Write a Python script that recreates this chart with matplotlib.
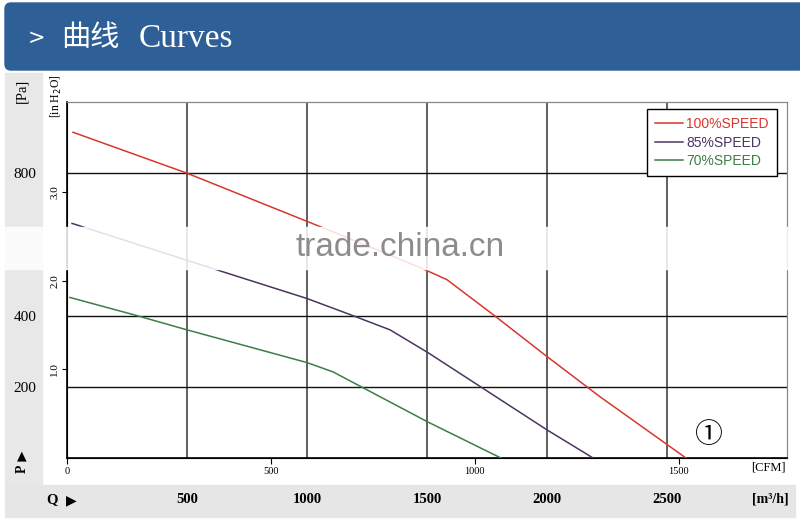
import matplotlib
matplotlib.use("Agg")
import matplotlib.pyplot as plt
from matplotlib.patches import Rectangle, FancyBboxPatch

# fan curves: airflow in m3/h, pressure in Pa
q_100 = [25, 500, 1062, 1471, 1583, 1775, 2000, 2221, 2579]
p_100 = [915, 800, 648, 535, 501, 403, 285, 172, 0]
q_85 = [21, 608, 1000, 1179, 1346, 1504, 2000, 2192]
p_85 = [659, 532, 448, 403, 360, 296, 79, 0]
q_70 = [12, 275, 500, 1000, 1108, 1504, 1808]
p_70 = [451, 403, 360, 268, 242, 101, 0]

labels = ["100%SPEED", "85%SPEED", "70%SPEED"]
colors = ["#d8372d", "#4b3561", "#3d7d45"]

q_ticks = [500, 1000, 1500, 2000, 2500]
cfm_ticks = [0, 500, 1000, 1500]
pa_ticks = [200, 400, 800]
inh2o_ticks = [1, 2, 3]

W, H = 800, 521
def fx(px):
    return px / W
def fy(py):
    return 1 - py / H

SERIF = "Liberation Serif"

fig = plt.figure(figsize=(8, 5.21), dpi=100)
fig.patch.set_facecolor("white")

# backgrounds (header drawn in pixel coords so the corner stays round)
fig.add_artist(FancyBboxPatch((5, H - 70), 800, 67, boxstyle="round,pad=0,rounding_size=6",
                              transform=None, color="#2e5f97", zorder=0))
fig.add_artist(Rectangle((fx(5), fy(485)), fx(37), (485 - 73) / H,
                         transform=fig.transFigure, color="#e8e8e8", zorder=0))
fig.add_artist(Rectangle((fx(5), fy(517)), fx(790), (517 - 485) / H,
                         transform=fig.transFigure, color="#e6e6e6", zorder=0))

# header
fig.text(fx(37), fy(38), ">", color="white", fontsize=15, ha="center", va="center",
         family="DejaVu Sans")
fig.text(fx(61), fy(38), "曲线", color="white", fontsize=21, ha="left", va="center",
         family=["Noto Sans CJK SC", "DejaVu Sans"], fontweight="medium")
fig.text(fx(139), fy(39), "Curves", color="white", fontsize=24, ha="left", va="center",
         family=SERIF)

ax = fig.add_axes([fx(67), fy(458), (787 - 67) / W, (458 - 102) / H])
ax.set_facecolor("none")

for q, p, lab, col in zip([q_100, q_85, q_70], [p_100, p_85, p_70], labels, colors):
    ax.plot(q, p, color=col, lw=1.1, label=lab, zorder=3)

ax.set_xlim(0, 3000)
ax.set_ylim(0, 1000)

ax.set_xticks(q_ticks)
ax.set_xticklabels([str(v) for v in q_ticks], family=SERIF, fontsize=10.5, fontweight="bold")
ax.tick_params(axis="x", length=0, pad=25)
ax.set_yticks(pa_ticks)
ax.set_yticklabels([str(v) for v in pa_ticks], family=SERIF, fontsize=11)
ax.tick_params(axis="y", length=0, pad=22)

ax.grid(axis="x", color="#444444", lw=1.2)
ax.grid(axis="y", color="#111111", lw=1.0)

for s in ["left", "bottom"]:
    ax.spines[s].set_color("black")
    ax.spines[s].set_linewidth(1.2)
for s in ["top", "right"]:
    ax.spines[s].set_color("#888888")
    ax.spines[s].set_linewidth(0.9)

# CFM scale right under the plot
sec_x = ax.secondary_xaxis("bottom", functions=(lambda q: q / 1.699, lambda c: c * 1.699))
sec_x.set_xticks(cfm_ticks)
sec_x.set_xticklabels([str(v) for v in cfm_ticks], family=SERIF, fontsize=7.5)
sec_x.tick_params(axis="x", length=4.5, width=0.8, pad=2)

# inch water scale
sec_y = ax.secondary_yaxis("left", functions=(lambda p: p / 249.09, lambda i: i * 249.09))
sec_y.set_yticks(inh2o_ticks)
sec_y.set_yticklabels(["%.1f" % v for v in inh2o_ticks], family=SERIF, fontsize=8,
                      rotation=90, va="center")
sec_y.tick_params(axis="y", length=3.5, width=0.8, pad=2)

leg = ax.legend(loc="upper right", bbox_to_anchor=(fx(777), fy(109)),
                bbox_transform=fig.transFigure, fancybox=False, edgecolor="black",
                framealpha=1, prop={"family": "Liberation Sans", "size": 10},
                handlelength=2.0, handletextpad=0.25, labelspacing=0.3,
                borderpad=0.6, borderaxespad=0, labelcolor="linecolor")
leg.get_frame().set_linewidth(1.0)

# axis captions
fig.text(fx(22), fy(91), "[Pa]", rotation=90, family=SERIF, fontsize=10.5,
         ha="center", va="center")
fig.text(fx(56), fy(96), "[in H$_2$O]", rotation=90, family=SERIF, fontsize=8.5,
         ha="center", va="center")
fig.text(fx(22), fy(469), "P", rotation=90, family=SERIF, fontsize=10, fontweight="bold",
         ha="center", va="center")
fig.text(fx(22), fy(456), "▲", family="DejaVu Sans", fontsize=9, ha="center", va="center")
fig.text(fx(52), fy(500), "Q", family=SERIF, fontsize=10.5, fontweight="bold",
         ha="center", va="center")
fig.text(fx(71), fy(500), "▶", family="DejaVu Sans", fontsize=10, ha="center", va="center")
fig.text(fx(768), fy(468), "[CFM]", family=SERIF, fontsize=9, ha="center", va="center")
fig.text(fx(770), fy(499), "[m³/h]", family=SERIF, fontsize=10, fontweight="bold",
         ha="center", va="center")
fig.text(fx(708), fy(435), "①", family=["Noto Sans CJK SC", "DejaVu Sans"], fontsize=20,
         ha="center", va="center")

# washed-out watermark band
fig.add_artist(Rectangle((0, fy(269)), 1, (269 - 227) / H, transform=fig.transFigure,
                         color="white", alpha=0.85, zorder=5))
fig.text(fx(400), fy(248), "trade.china.cn", family="Liberation Sans", fontsize=24,
         color="#8c8c8c", ha="center", va="center", zorder=6)

fig.savefig("out.png", dpi=100)
